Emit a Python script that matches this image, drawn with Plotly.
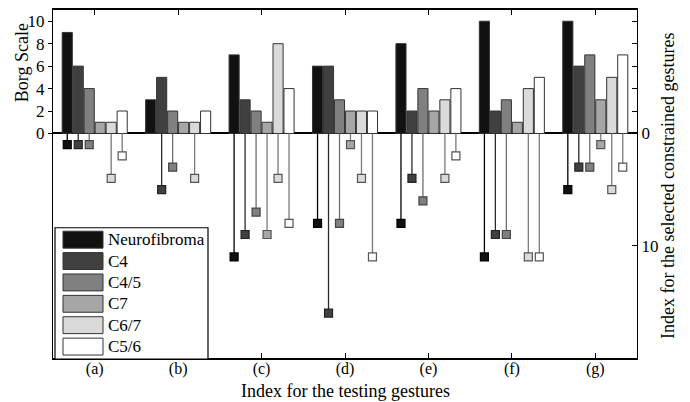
import plotly.graph_objects as go

# ---------------- data ----------------
groups = ["(a)", "(b)", "(c)", "(d)", "(e)", "(f)", "(g)"]
series = ["Neurofibroma", "C4", "C4/5", "C7", "C6/7", "C5/6"]

# Borg scale (bars, left axis)
borg_neuro = [9, 3, 7, 6, 8, 10, 10]
borg_c4 = [6, 5, 3, 6, 2, 2, 6]
borg_c45 = [4, 2, 2, 3, 4, 3, 7]
borg_c7 = [1, 1, 1, 2, 2, 1, 3]
borg_c67 = [1, 1, 8, 2, 3, 4, 5]
borg_c56 = [2, 2, 4, 2, 4, 5, 7]

# Index for the selected constrained gestures (stems, right axis, downward)
idx_neuro = [1, None, 11, 8, 8, 11, 5]
idx_c4 = [1, 5, 9, 16, 4, 9, 3]
idx_c45 = [1, 3, 7, 8, 6, 9, 3]
idx_c7 = [None, None, 9, 1, None, None, 1]
idx_c67 = [4, 4, 4, 4, 4, 11, 5]
idx_c56 = [2, None, 8, 11, 2, 11, 3]

borg = [borg_neuro, borg_c4, borg_c45, borg_c7, borg_c67, borg_c56]
idx = [idx_neuro, idx_c4, idx_c45, idx_c7, idx_c67, idx_c56]

# ---------------- styles ----------------
fills = ["#111111", "#404040", "#808080", "#a6a6a6", "#dadada", "#ffffff"]
stem_colors = ["#000000", "#2a2a2a", "#6e6e6e", "#7a7a7a", "#7a7a7a", "#7a7a7a"]
mark_edges = ["#000000", "#222222", "#444444", "#555555", "#555555", "#555555"]
FONT = "Liberation Serif, Times New Roman, serif"

BARGAP = 0.21
BARGROUPGAP = 0.08
n = len(series)
slot = (1 - BARGAP) / n
xpos = list(range(1, len(groups) + 1))

fig = go.Figure()

for k, name in enumerate(series):
    fig.add_trace(go.Bar(
        x=xpos, y=borg[k], name=name, showlegend=False,
        marker=dict(color=fills[k], line=dict(color="#333333", width=1)),
        yaxis="y", xaxis="x",
    ))

for k, name in enumerate(series):
    off = -(1 - BARGAP) / 2 + slot * (k + 0.5)
    lx, ly, mx, my = [], [], [], []
    for i, v in enumerate(idx[k]):
        if v is None:
            continue
        xs = xpos[i] + off
        lx += [xs, xs, None]
        ly += [0, v, None]
        mx.append(xs)
        my.append(v)
    fig.add_trace(go.Scatter(
        x=lx, y=ly, mode="lines", showlegend=False, hoverinfo="skip",
        line=dict(color=stem_colors[k], width=1.3), yaxis="y2",
    ))
    fig.add_trace(go.Scatter(
        x=mx, y=my, mode="markers", showlegend=False, name=name,
        marker=dict(symbol="square", size=8, color=fills[k],
                    line=dict(color=mark_edges[k], width=1.2)),
        yaxis="y2",
    ))

# ---------------- manual legend ----------------
L, R, T, B = 53, 637, 8, 358
W, H = R - L, B - T


def px(x):
    return (x - L) / W


def py(y):
    return (B - y) / H


shapes = [dict(type="rect", xref="paper", yref="paper",
               x0=px(55), x1=px(208), y0=py(359), y1=py(227),
               line=dict(color="black", width=1.2), fillcolor="white", layer="above")]
annotations = []
for k, name in enumerate(series):
    cy = 239 + 21.5 * k
    shapes.append(dict(type="rect", xref="paper", yref="paper",
                       x0=px(63), x1=px(103), y0=py(cy + 8.5), y1=py(cy - 8.5),
                       line=dict(color="#333333", width=1), fillcolor=fills[k], layer="above"))
    annotations.append(dict(text=name, xref="paper", yref="paper", x=px(106), y=py(cy),
                            xanchor="left", yanchor="middle", showarrow=False,
                            font=dict(family=FONT, size=17, color="black")))

annotations += [
    dict(text="Borg Scale", xref="paper", yref="paper", x=px(22), y=py(61.5),
         textangle=-90, showarrow=False, xanchor="center", yanchor="middle",
         font=dict(family=FONT, size=18, color="black")),
    dict(text="Index for the selected constrained gestures", xref="paper", yref="paper",
         x=px(668), y=py(185), textangle=-90, showarrow=False,
         xanchor="center", yanchor="middle",
         font=dict(family=FONT, size=18, color="black")),
    dict(text="Index for the testing gestures", xref="paper", yref="paper",
         x=px(345), y=py(391), showarrow=False, xanchor="center", yanchor="middle",
         font=dict(family=FONT, size=18, color="black")),
]

fig.update_layout(
    width=690, height=402,
    margin=dict(l=L, r=690 - R, t=T, b=402 - B),
    paper_bgcolor="white", plot_bgcolor="white",
    barmode="group", bargap=BARGAP, bargroupgap=BARGROUPGAP,
    font=dict(family=FONT, size=17, color="black"),
    showlegend=False,
    xaxis=dict(range=[0.5, 7.5], tickvals=xpos, ticktext=groups,
               ticks="inside", ticklen=5, tickcolor="black", mirror="ticks",
               showline=True, linecolor="black", linewidth=1.5,
               showgrid=False, zeroline=False, ticklabelstandoff=-5,
               tickfont=dict(family=FONT, size=16)),
    yaxis=dict(range=[-20, 11], tickvals=[0, 2, 4, 6, 8, 10],
               ticks="outside", ticklen=4, tickcolor="black",
               showline=True, linecolor="black", linewidth=1.2,
               showgrid=False, zeroline=True, zerolinecolor="black", zerolinewidth=1.5,
               tickfont=dict(family=FONT, size=17)),
    yaxis2=dict(overlaying="y", side="right", range=[20, -11],
                tickvals=[-10, -8, -6, -4, -2, 0, 10],
                ticktext=["", "", "", "", "", "0", "10"],
                ticks="inside", ticklen=5, tickcolor="black",
                showline=True, linecolor="black", linewidth=1.2,
                showgrid=False, zeroline=False,
                tickfont=dict(family=FONT, size=17)),
    shapes=shapes, annotations=annotations,
)

fig.write_html("out.html", config={"displayModeBar": False},
               post_script="document.body.style.margin='0';document.body.style.overflow='hidden';")
